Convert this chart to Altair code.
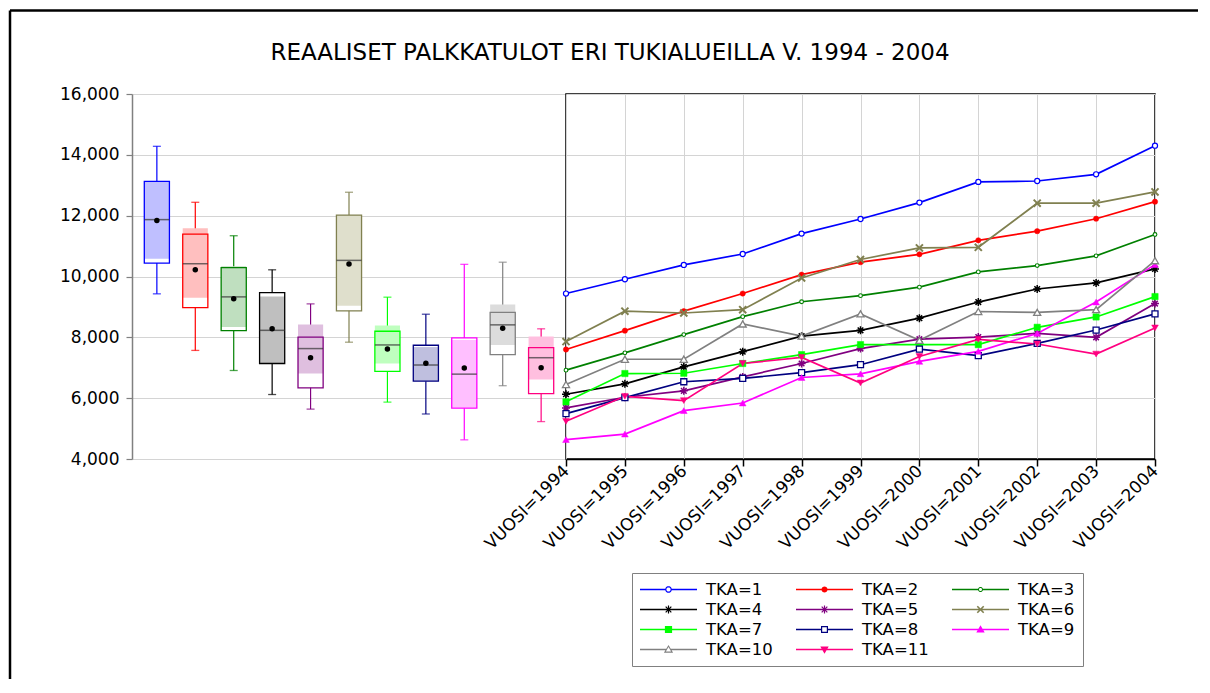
import math
import altair as alt
import pandas as pd

TITLE = "REAALISET PALKKATULOT ERI TUKIALUEILLA V. 1994 - 2004"
YEARS = [1994, 1995, 1996, 1997, 1998, 1999, 2000, 2001, 2002, 2003, 2004]
TKA = ["TKA=1", "TKA=2", "TKA=3", "TKA=4", "TKA=5", "TKA=6",
       "TKA=7", "TKA=8", "TKA=9", "TKA=10", "TKA=11"]

tka1 = [9440, 9910, 10380, 10740, 11410, 11890, 12430, 13110, 13140, 13360, 14300]
tka2 = [7600, 8220, 8860, 9440, 10060, 10470, 10730, 11190, 11490, 11900, 12460]
tka3 = [6920, 7490, 8090, 8680, 9170, 9370, 9650, 10150, 10360, 10680, 11380]
tka4 = [6130, 6470, 7030, 7530, 8040, 8230, 8630, 9160, 9590, 9790, 10250]
tka5 = [5680, 6030, 6240, 6700, 7140, 7630, 7940, 8010, 8130, 8000, 9110]
tka6 = [7860, 8860, 8800, 8910, 9950, 10560, 10940, 10960, 12410, 12410, 12780]
tka7 = [5880, 6810, 6820, 7140, 7430, 7760, 7760, 7760, 8330, 8670, 9340]
tka8 = [5490, 6020, 6540, 6650, 6840, 7100, 7610, 7400, 7800, 8240, 8770]
tka9 = [4640, 4820, 5590, 5840, 6680, 6800, 7210, 7540, 8130, 9160, 10390]
tka10 = [6450, 7280, 7280, 8440, 8040, 8770, 7900, 8850, 8820, 8910, 10520]
tka11 = [5240, 6060, 5920, 7140, 7340, 6500, 7370, 7930, 7780, 7450, 8310]
SERIES = [tka1, tka2, tka3, tka4, tka5, tka6, tka7, tka8, tka9, tka10, tka11]

# box plot statistics
box_whisker_hi = [14280, 12440, 11340, 10220, 9100, 12770, 9320, 8760, 10400, 10470, 8280]
box_q3 = [13130, 11390, 10290, 9470, 8010, 12020, 8200, 7740, 7980, 8820, 7660]
box_median = [11870, 10420, 9330, 8230, 7630, 10530, 7750, 7090, 6790, 8410, 7330]
box_mean = [11840, 10220, 9270, 8280, 7330, 10410, 7620, 7150, 6990, 8300, 7000]
box_q1 = [10440, 8980, 8220, 7140, 6340, 8870, 6880, 6560, 5670, 7430, 6150]
box_whisker_lo = [9430, 7570, 6910, 6120, 5640, 7840, 5870, 5480, 4630, 6410, 5230]
box_ci_hi = [13130, 11590, 10340, 9340, 8420, 12020, 8390, 7680, 7910, 9080, 8030]
box_ci_lo = [10580, 9300, 8340, 7140, 6810, 9040, 7140, 6560, 5690, 7750, 6610]

Y_TICKS = [4000, 6000, 8000, 10000, 12000, 14000, 16000]

COLORS = ["#0000ff", "#ff0000", "#008000", "#000000", "#800080", "#808050",
          "#00ff00", "#000080", "#ff00ff", "#808080", "#ff0080"]
LIGHT = ["#bfbfff", "#ffbfbf", "#bfdfbf", "#bfbfbf", "#dfbfdf", "#dfdfcc",
         "#bfffbf", "#bfbfdf", "#ffbfff", "#dcdcdc", "#ffbfdf"]

FONT = "DejaVu Sans"
GRID = "#d4d4d4"

# ---------------- legend symbols (line with marker) ----------------
LEG_SIZE = 3249
R = math.sqrt(LEG_SIZE) / 2


def _pt(x, y):
    return f"{x / R:.4f},{y / R:.4f}"


def _area(pts):
    n = len(pts)
    return sum(pts[i][0] * pts[(i + 1) % n][1] - pts[(i + 1) % n][0] * pts[i][1]
               for i in range(n)) / 2


def _poly(pts, hole=False):
    if (_area(pts) < 0) != hole:
        pts = pts[::-1]
    return "M" + "L".join(_pt(*p) for p in pts) + "Z"


def _circle(r, n=20):
    return [(r * math.cos(2 * math.pi * k / n), r * math.sin(2 * math.pi * k / n)) for k in range(n)]


def _rect(x0, x1, y0, y1):
    return [(x0, y0), (x1, y0), (x1, y1), (x0, y1)]


def _seg(x0, y0, x1, y1, w):
    dx, dy = x1 - x0, y1 - y0
    L = math.hypot(dx, dy)
    nx, ny = -dy / L * w, dx / L * w
    return [(x0 + nx, y0 + ny), (x1 + nx, y1 + ny), (x1 - nx, y1 - ny), (x0 - nx, y0 - ny)]


T = 0.8


def line_full():
    return _poly(_rect(-R, R, -T, T))


def line_split(g):
    return _poly(_rect(-R, -g, -T, T)) + _poly(_rect(g, R, -T, T))


def ring(ro, ri):
    return _poly(_circle(ro)) + _poly(_circle(ri), hole=True)


def asterisk(a, w):
    d = a * 0.7071
    return "".join(_poly(_seg(*s, w)) for s in [(-a, 0, a, 0), (0, -a, 0, a), (-d, -d, d, d), (-d, d, d, -d)])


def xcross(a, w):
    return _poly(_seg(-a, -a, a, a, w)) + _poly(_seg(-a, a, a, -a, w))


LEG_PATHS = [
    ring(3.3, 2.1) + line_split(2.6),
    _poly(_circle(3.0)) + line_full(),
    ring(2.5, 1.5) + line_split(2.0),
    asterisk(4.0, 0.6) + line_full(),
    asterisk(4.0, 0.6) + line_full(),
    xcross(3.2, 0.8) + line_full(),
    _poly(_rect(-3.6, 3.6, -3.6, 3.6)) + line_full(),
    _poly(_rect(-3.5, 3.5, -3.5, 3.5)) + _poly(_rect(-2.3, 2.3, -2.3, 2.3), hole=True) + line_split(2.9),
    _poly([(0, -4.2), (4.2, 3.0), (-4.2, 3.0)]) + line_full(),
    _poly([(0, -4.6), (4.6, 3.2), (-4.6, 3.2)]) + _poly([(0, -2.4), (2.6, 2.0), (-2.6, 2.0)], hole=True) + line_split(2.0),
    _poly([(-4.2, -3.0), (4.2, -3.0), (0, 4.2)]) + line_full(),
]

# plot markers: (shape, size, fill mode, strokeWidth)
ASTER = "M-1,0L1,0M0,-1L0,1M-0.7,-0.7L0.7,0.7M-0.7,0.7L0.7,-0.7"
XMARK = "M-1,-1L1,1M-1,1L1,-1"
MARKERS = [
    ("circle", 26, "white", 1.2),
    ("circle", 28, "color", 0.5),
    ("circle", 14, "white", 1.1),
    (ASTER, 64, None, 1.5),
    (ASTER, 64, None, 1.5),
    (XMARK, 50, None, 2.0),
    ("square", 40, "color", 0.5),
    ("square", 36, "white", 1.3),
    ("triangle-up", 45, "color", 0.5),
    ("triangle-up", 50, "white", 1.3),
    ("triangle-down", 45, "color", 0.5),
]

# ---------------- data frames ----------------
lines_df = pd.DataFrame([
    {"TKA": TKA[i], "year": YEARS[j], "value": SERIES[i][j]}
    for i in range(len(TKA)) for j in range(len(YEARS))
])
box_df = pd.DataFrame({
    "TKA": TKA, "whi": box_whisker_hi, "q3": box_q3, "median": box_median,
    "mean": box_mean, "q1": box_q1, "wlo": box_whisker_lo,
    "cihi": box_ci_hi, "cilo": box_ci_lo,
})
one_df = pd.DataFrame({"t": [TITLE]})

# ---------------- left panel: box plots ----------------
YSCALE = alt.Scale(domain=[4000, 16000], nice=False, zero=False)
YAXIS_L = alt.Axis(values=Y_TICKS, format=",d", title=None, grid=True, gridColor=GRID,
                   gridWidth=1, domainColor="#808080", domainWidth=1.5, tickColor="#808080",
                   tickSize=6, tickWidth=1.2, labelPadding=7, labelFont=FONT,
                   labelFontSize=17, labelColor="black")


def YL(field):
    return alt.Y(f"{field}:Q", scale=YSCALE, axis=YAXIS_L)


XB = alt.X("TKA:N", scale=alt.Scale(type="band", domain=TKA, paddingInner=0.346, paddingOuter=0.32),
           axis=None)
CB = alt.Color("TKA:N", scale=alt.Scale(domain=TKA, range=COLORS), legend=None)

base = alt.Chart(box_df)
border_top = alt.Chart(one_df).mark_rule(color="black", strokeWidth=2.5).encode(
    x=alt.value(-122), x2=alt.value(1066), y=alt.value(-83.5))
border_left = alt.Chart(one_df).mark_rule(color="black", strokeWidth=2.5).encode(
    x=alt.value(-122), y=alt.value(-83.5), y2=alt.value(585))
title = alt.Chart(one_df).mark_text(font=FONT, fontSize=23, align="center",
                                   baseline="alphabetic", color="black").encode(
    text="t:N", x=alt.value(478), y=alt.value(-34.4))

whisker = base.mark_rule(strokeWidth=1.2).encode(x=XB, y=YL("wlo"), y2="whi", color=CB)
cap_hi = base.mark_tick(size=8, thickness=1.3).encode(x=XB, y=YL("whi"), color=CB)
cap_lo = base.mark_tick(size=8, thickness=1.3).encode(x=XB, y=YL("wlo"), color=CB)
box_bg = base.mark_bar(color="white").encode(x=XB, y=YL("q1"), y2="q3")
ci = base.mark_bar().encode(
    x=XB, y=YL("cilo"), y2="cihi",
    fill=alt.Fill("TKA:N", scale=alt.Scale(domain=TKA, range=LIGHT), legend=None))
box = base.mark_bar(filled=False, strokeWidth=1.3).encode(x=XB, y=YL("q1"), y2="q3", color=CB)
median = base.mark_tick(size=25, thickness=1.5, color="#333333").encode(x=XB, y=YL("median"))
mean = base.mark_point(filled=True, size=30, color="black", opacity=1).encode(x=XB, y=YL("mean"))

left = alt.layer(border_top, border_left, title, whisker, cap_hi, cap_lo, box_bg, ci, box,
                 median, mean).properties(
    width=434, height=365, view=alt.ViewBackground(stroke="transparent"))

# ---------------- right panel: lines ----------------
XAXIS = alt.Axis(values=YEARS, labelExpr="'VUOSI=' + datum.value", labelAngle=-45,
                 labelAlign="right", labelBaseline="middle", labelFont=FONT, labelFontSize=17,
                 labelColor="black", labelOverlap=False, labelFlush=False, tickSize=7,
                 tickColor="black", tickWidth=1.5, domainColor="black", domainWidth=1.5,
                 grid=True, gridColor=GRID, gridWidth=1, title=None, labelPadding=2)
XQ = alt.X("year:Q", scale=alt.Scale(domain=[1994, 2004], nice=False, zero=False), axis=XAXIS)
YR = alt.Y("value:Q", scale=YSCALE,
           axis=alt.Axis(values=Y_TICKS, grid=True, gridColor=GRID, gridWidth=1, labels=False,
                         ticks=False, domain=False, title=None))
CSCALE = alt.Scale(domain=TKA, range=COLORS)

LEG = alt.Legend(title=None, orient="none", legendX=66, legendY=479, columns=3,
                 direction="horizontal", clipHeight=17,
                 strokeColor="#808080", fillColor="white", padding=8, columnPadding=23,
                 rowPadding=3, symbolSize=LEG_SIZE, symbolStrokeWidth=0, symbolOffset=0,
                 labelOffset=9, labelFont=FONT, labelFontSize=16.5, labelColor="black",
                 labelLimit=200, gridAlign="all")

legend_layer = alt.Chart(lines_df).transform_filter("false").mark_point(
    filled=True, opacity=1).encode(
    x=XQ, y=YR,
    color=alt.Color("TKA:N", scale=CSCALE, legend=LEG),
    shape=alt.Shape("TKA:N", scale=alt.Scale(domain=TKA, range=LEG_PATHS), legend=LEG))

line_layers = []
point_layers = []
for i, name in enumerate(TKA):
    shape, size, fill, sw = MARKERS[i]
    col = COLORS[i]
    sub = alt.Chart(lines_df).transform_filter(alt.datum.TKA == name)
    line_layers.append(sub.mark_line(strokeWidth=1.7, color=col).encode(x=XQ, y=YR))
    if fill is None:
        pm = sub.mark_point(shape=shape, size=size, filled=False, color=col, stroke=col,
                            strokeWidth=sw, opacity=1)
    else:
        pm = sub.mark_point(shape=shape, size=size, filled=True,
                            fill=(col if fill == "color" else "white"), stroke=col,
                            strokeWidth=sw, opacity=1)
    point_layers.append(pm.encode(x=XQ, y=YR))

right = alt.layer(legend_layer, *line_layers, *point_layers).properties(
    width=589, height=365, view=alt.ViewBackground(stroke="black", strokeWidth=1.5))

chart = alt.hconcat(left, right, spacing=0, bounds="flush", padding=0).resolve_scale(
    color="independent", fill="independent", shape="independent").configure(font=FONT)

chart.save("out.html", embed_options={"renderer": "svg", "actions": False})
